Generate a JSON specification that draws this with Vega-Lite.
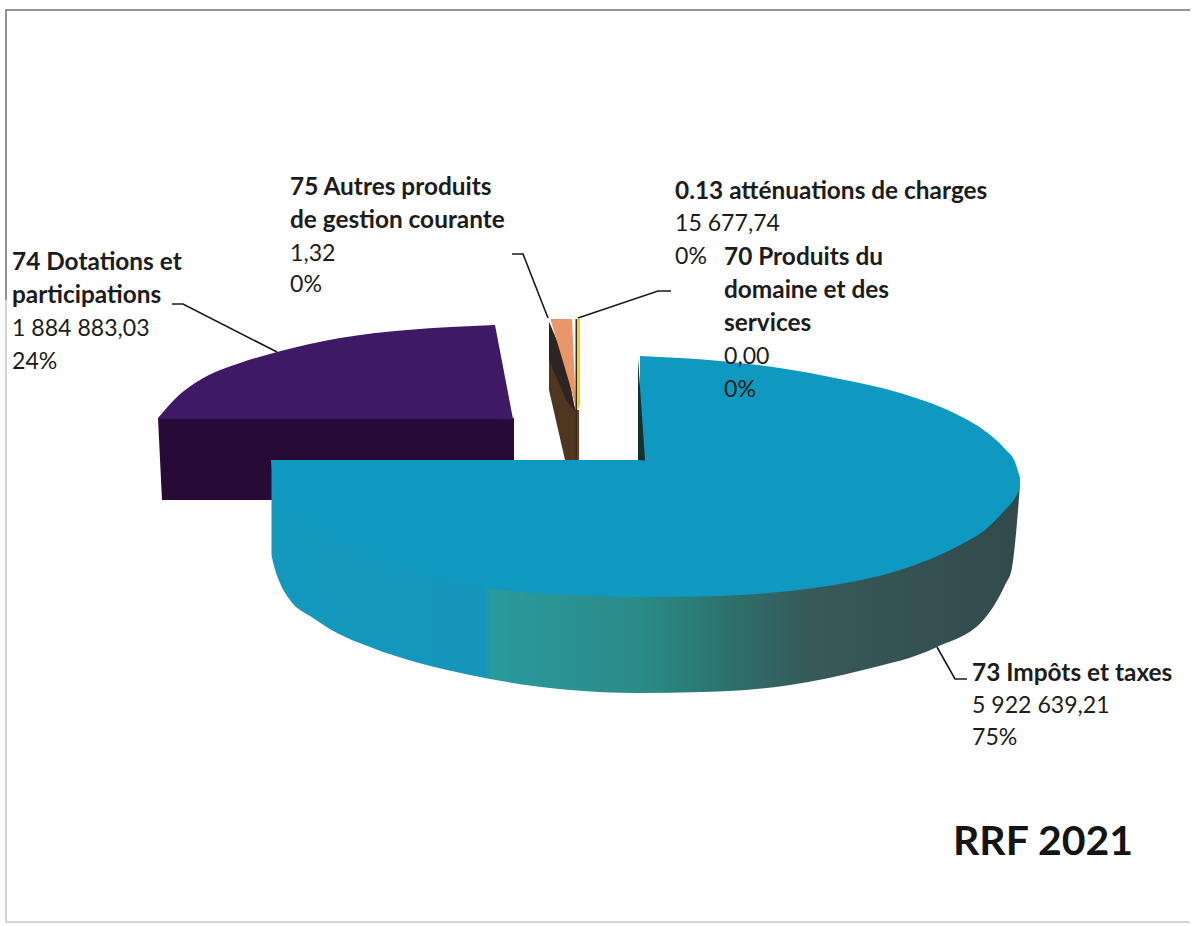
{"$schema":"https://vega.github.io/schema/vega-lite/v6.json","width":1192,"height":926,"autosize":"none","padding":0,"background":"white","config":{"view":{"stroke":null},"axis":{"disable":true}},
"encoding":{"x":{"field":"x","type":"quantitative","scale":{"domain":[0,1192],"nice":false,"zero":false},"axis":null},"y":{"field":"y","type":"quantitative","scale":{"domain":[926,0],"nice":false,"zero":false},"axis":null}},
"layer":[
{"data":{"values":[{"i":1,"x":6,"y":300},{"i":2,"x":6,"y":10},{"i":3,"x":1190,"y":10}]},"mark":{"type":"line","stroke":"#6f6f6f","strokeWidth":1.5},"encoding":{"order":{"field":"i","type":"quantitative"}}},
{"data":{"values":[{"i":1,"x":6,"y":300},{"i":2,"x":6,"y":922},{"i":3,"x":1190,"y":922}]},"mark":{"type":"line","stroke":"#a8a8a8","strokeWidth":1},"encoding":{"order":{"field":"i","type":"quantitative"}}},
{"data":{"values":[{"x":158,"y":418,"y2":418},{"x":162,"y":418,"y2":500},{"x":513,"y":418,"y2":500},{"x":514,"y":418,"y2":460}]},"mark":{"type":"area","orient":"vertical","color":"#270a36"},"encoding":{"y2":{"field":"y2"}}},
{"data":{"values":[{"x":158,"y":418,"y2":419},{"x":177,"y":397,"y2":419},{"x":207,"y":376,"y2":419},{"x":240,"y":363,"y2":419},{"x":277,"y":352,"y2":419},{"x":340,"y":338,"y2":419},{"x":407,"y":330,"y2":419},{"x":495,"y":325,"y2":419}]},"mark":{"type":"area","orient":"vertical","color":"#3e1a66","interpolate":"monotone"},"encoding":{"y2":{"field":"y2"}}},
{"data":{"values":[{"x":495,"y":325,"y2":419},{"x":513,"y":419,"y2":419.5}]},"mark":{"type":"area","orient":"vertical","color":"#3e1a66"},"encoding":{"y2":{"field":"y2"}}},
{"data":{"values":[{"x":549,"y":322,"y2":390},{"x":565,"y":360,"y2":460},{"x":574,"y":405,"y2":460},{"x":576,"y":410,"y2":460}]},"mark":{"type":"area","orient":"vertical","color":"#4f3620"},"encoding":{"y2":{"field":"y2"}}},
{"data":{"values":[{"x":549,"y":322,"y2":360},{"x":566,"y":362,"y2":400},{"x":575,"y":410,"y2":411}]},"mark":{"type":"area","orient":"vertical","color":"#2e2422"},"encoding":{"y2":{"field":"y2"}}},
{"data":{"values":[{"x":551,"y":319,"y2":321},{"x":572,"y":319,"y2":392},{"x":576,"y":407,"y2":410}]},"mark":{"type":"area","orient":"vertical","color":"#e8966a"},"encoding":{"y2":{"field":"y2"}}},
{"data":{"values":[{"x":575.5,"y":319,"y2":460},{"x":577,"y":319,"y2":460}]},"mark":{"type":"area","orient":"vertical","color":"#3a2a20"},"encoding":{"y2":{"field":"y2"}}},
{"data":{"values":[{"x":577,"y":319,"y2":412},{"x":580,"y":319,"y2":405}]},"mark":{"type":"area","orient":"vertical","color":"#e6d426"},"encoding":{"y2":{"field":"y2"}}},
{"data":{"values":[{"x":577,"y":410,"y2":460},{"x":579,"y":410,"y2":460}]},"mark":{"type":"area","orient":"vertical","color":"#6a3a22"},"encoding":{"y2":{"field":"y2"}}},
{"data":{"values":[{"x":271.5,"y":461,"y2":555},{"x":273,"y":461,"y2":562},{"x":280,"y":461,"y2":583},{"x":290,"y":461,"y2":600},{"x":313,"y":461,"y2":618},{"x":337,"y":461,"y2":633},{"x":370,"y":461,"y2":647},{"x":470,"y":461,"y2":675},{"x":570,"y":590,"y2":690},{"x":637,"y":590,"y2":693},{"x":703,"y":590,"y2":692},{"x":790,"y":585,"y2":685},{"x":863,"y":572,"y2":670},{"x":937,"y":548,"y2":647},{"x":985,"y":522,"y2":618},{"x":1005,"y":502,"y2":585},{"x":1012,"y":495,"y2":568},{"x":1019.5,"y":484,"y2":491}]},"mark":{"type":"area","orient":"vertical","interpolate":"monotone","color":{"gradient":"linear","x1":0,"x2":1,"y1":0,"y2":0,"stops":[{"offset":0,"color":"#1398be"},{"offset":0.285,"color":"#1496ba"},{"offset":0.295,"color":"#2a9a9e"},{"offset":0.5,"color":"#2a8a86"},{"offset":0.62,"color":"#2d6f6a"},{"offset":0.72,"color":"#38595a"},{"offset":1,"color":"#324a4b"}]}},"encoding":{"y2":{"field":"y2"}}},
{"data":{"values":[{"x":640,"y":356,"y2":597},{"x":720,"y":361,"y2":596},{"x":780,"y":368,"y2":592},{"x":840,"y":379,"y2":584},{"x":900,"y":393,"y2":570},{"x":960,"y":416,"y2":545},{"x":985,"y":431,"y2":530},{"x":1005,"y":449,"y2":510},{"x":1015,"y":462,"y2":498},{"x":1020,"y":478,"y2":488}]},"mark":{"type":"area","orient":"vertical","color":"#0f98c0","interpolate":"monotone"},"encoding":{"y2":{"field":"y2"}}},
{"data":{"values":[{"x":271,"y":460,"y2":461},{"x":275,"y":460,"y2":490},{"x":287,"y":460,"y2":505},{"x":313,"y":460,"y2":525},{"x":370,"y":460,"y2":555},{"x":470,"y":460,"y2":585},{"x":570,"y":460,"y2":595},{"x":641,"y":460,"y2":597}]},"mark":{"type":"area","orient":"vertical","color":"#0f98c0","interpolate":"monotone"},"encoding":{"y2":{"field":"y2"}}},
{"data":{"values":[{"x":638,"y":358,"y2":460},{"x":645,"y":460,"y2":460.5}]},"mark":{"type":"area","orient":"vertical","color":"#16302f"},"encoding":{"y2":{"field":"y2"}}},
{"data":{"values":[{"k":"a","i":1,"x":172,"y":304},{"k":"a","i":2,"x":183,"y":304},{"k":"a","i":3,"x":277,"y":352},{"k":"b","i":1,"x":512,"y":254},{"k":"b","i":2,"x":523,"y":254},{"k":"b","i":3,"x":548,"y":318},{"k":"c","i":1,"x":578,"y":318},{"k":"c","i":2,"x":658,"y":291},{"k":"c","i":3,"x":671,"y":291},{"k":"d","i":1,"x":937,"y":647},{"k":"d","i":2,"x":955,"y":679},{"k":"d","i":3,"x":967,"y":679}]},"mark":{"type":"line","stroke":"#1a1a1a","strokeWidth":1.6},"encoding":{"detail":{"field":"k"},"order":{"field":"i","type":"quantitative"}}},
{"data":{"values":[{"t":"74 Dotations et","x":12,"y":270},{"t":"participations","x":12,"y":303},{"t":"75 Autres produits","x":290,"y":195},{"t":"de gestion courante","x":290,"y":228},{"t":"0.13 atténuations de charges","x":675,"y":199},{"t":"70 Produits du","x":724,"y":265},{"t":"domaine et des","x":724,"y":298},{"t":"services","x":724,"y":331},{"t":"73 Impôts et taxes","x":972,"y":681}]},"mark":{"type":"text","font":"Lato","fontSize":24.4,"fontWeight":"bold","align":"left","baseline":"alphabetic","color":"#1c1c1c"},"encoding":{"text":{"field":"t"}}},
{"data":{"values":[{"t":"1 884 883,03","x":12,"y":336},{"t":"24%","x":12,"y":369},{"t":"1,32","x":290,"y":261},{"t":"0%","x":290,"y":292},{"t":"15 677,74","x":675,"y":231},{"t":"0%","x":675,"y":264},{"t":"0,00","x":724,"y":364},{"t":"0%","x":724,"y":397},{"t":"5 922 639,21","x":972,"y":713},{"t":"75%","x":972,"y":745}]},"mark":{"type":"text","font":"Lato","fontSize":23.1,"align":"left","baseline":"alphabetic","color":"#1c1c1c"},"encoding":{"text":{"field":"t"}}},
{"data":{"values":[{"t":"RRF 2021","x":953,"y":855}]},"mark":{"type":"text","font":"Lato","fontSize":41,"fontWeight":"bold","align":"left","baseline":"alphabetic","color":"#141414"},"encoding":{"text":{"field":"t"}}}
]}
